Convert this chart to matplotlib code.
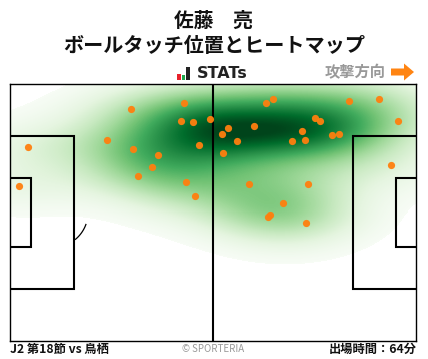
import numpy as np
import matplotlib
matplotlib.use("Agg")
import matplotlib.pyplot as plt
from matplotlib.colors import LinearSegmentedColormap
from matplotlib.patches import Rectangle, FancyArrow

plt.rcParams['font.family'] = ['Noto Sans CJK JP', 'DejaVu Sans']

W, H = 428, 359
touch_x = [131.3,184.3,181.3,193.3,210,107.3,133.3,158.3,152.3,138.3,186.3,195.3,199.3,28.3,19.3,
           273.3,266.3,349.3,379.3,398.3,315.3,320.3,254.3,228.3,222.3,302.3,332.3,339.3,237.3,292.3,305.3,
           223.3,391.3,249.3,308.3,283.3,270.3,268.3,306.3]
touch_y = [109.3,103.3,121.3,122.3,119.3,140.3,149.3,155.3,167.3,176.3,182.3,196.3,145.3,147.3,186.3,
           99.3,103.3,101.3,99.3,121.3,118.3,121.3,126.3,128.3,134.3,131.3,135.3,134.3,141.3,141.3,140.3,
           153.3,165.3,184.3,184.3,203.3,215.3,217.3,223.3]
title_lines = ["佐藤　亮", "ボールタッチ位置とヒートマップ"]
match_label = "J2 第18節 vs 鳥栖"
time_label = "出場時間：64分"
credit = "© SPORTERIA"
direction = "攻撃方向"

fig = plt.figure(figsize=(W/100, H/100), dpi=100)
bg = fig.add_axes([0, 0, 1, 1]); bg.set_xlim(0, W); bg.set_ylim(H, 0); bg.axis('off')

L, R, T, B = 10, 416, 84, 340.5
ax = fig.add_axes([L/W, 1-B/H, (R-L)/W, (B-T)/H])
ax.set_xlim(L, R); ax.set_ylim(B, T)
ax.set_xticks([]); ax.set_yticks([])
for s in ax.spines.values():
    s.set_linewidth(1.0); s.set_color('black')

# density estimated from the touches: a broad and a narrow kernel
gx, gy = np.meshgrid(np.linspace(L, R, 406), np.linspace(T, B, 256))
wide = np.zeros_like(gx)
tight = np.zeros_like(gx)
for px, py in zip(touch_x, touch_y):
    wide += np.exp(-((gx-px)/48)**2/2 - ((gy-py)/24)**2/2)
    tight += np.exp(-((gx-px)/55)**2/2 - ((gy-py)/16)**2/2)
z = wide/wide.max()*0.7 + tight/tight.max()*0.3
z /= z.max()
cmap = LinearSegmentedColormap.from_list('g', ['#f7fcf5', '#e5f5e0', '#c7e9c0', '#a1d99b', '#74c476',
                                               '#41ab5d', '#238b45', '#006d2c', '#00441b'])
cmap.set_under('white')
ax.imshow(z, extent=[L, R, B, T], cmap=cmap, vmin=0.035, vmax=0.98, aspect='auto',
          origin='upper', interpolation='nearest', zorder=1)

lw = 1.5
# pitch
ax.plot([213, 213], [T, B], color='black', lw=1.5, zorder=2, solid_capstyle='butt')
for xs, ys in [([L, 74, 74, L], [136, 136, 289, 289]),
               ([L, 31, 31, L], [178, 178, 247, 247]),
               ([R, 353, 353, R], [136, 136, 289, 289]),
               ([R, 396, 396, R], [178, 178, 247, 247])]:
    ax.plot(xs, ys, color='black', lw=lw, zorder=2, solid_joinstyle='miter')
ang = np.radians(np.linspace(20, 50, 24))
ax.plot(53 + 35*np.cos(ang), 212.5 + 35*np.sin(ang), color='black', lw=0.9, zorder=2)

ax.scatter(touch_x, touch_y, s=27, color='#ff7f0e', linewidths=0, zorder=3, alpha=0.95)

# titles
bg.text(214, 21, title_lines[0], ha='center', va='center', fontsize=14.2, fontweight='bold', color='#111111')
bg.text(214, 45, title_lines[1], ha='center', va='center', fontsize=14.5, fontweight='bold', color='#111111')

# logo
bg.add_patch(Rectangle((177, 73.5), 4, 6.5, color='#e8212b', lw=0))
bg.add_patch(Rectangle((182, 75), 3.5, 5, color='#1fa64a', lw=0))
bg.add_patch(Rectangle((186.5, 67), 3.5, 13, color='#222222', lw=0))
bg.text(197, 74, "STATs", ha='left', va='center', fontsize=11.5, fontweight='bold',
        color='#222222', family='DejaVu Sans')

# direction
bg.text(355, 72, direction, ha='center', va='center', fontsize=11, fontweight='bold', color='#999999')
bg.add_patch(FancyArrow(391, 72, 23, 0, width=7, head_width=17, head_length=10,
                        length_includes_head=True, color='#ff8412', lw=0))

# footer
bg.text(10, 349.5, match_label, ha='left', va='center', fontsize=8.8, fontweight='bold', color='#111111')
bg.text(417, 349.5, time_label, ha='right', va='center', fontsize=8.8, fontweight='bold', color='#111111')
bg.text(213, 348.5, credit, ha='center', va='center', fontsize=7, color='#999999')

fig.savefig('out.png', dpi=100)
